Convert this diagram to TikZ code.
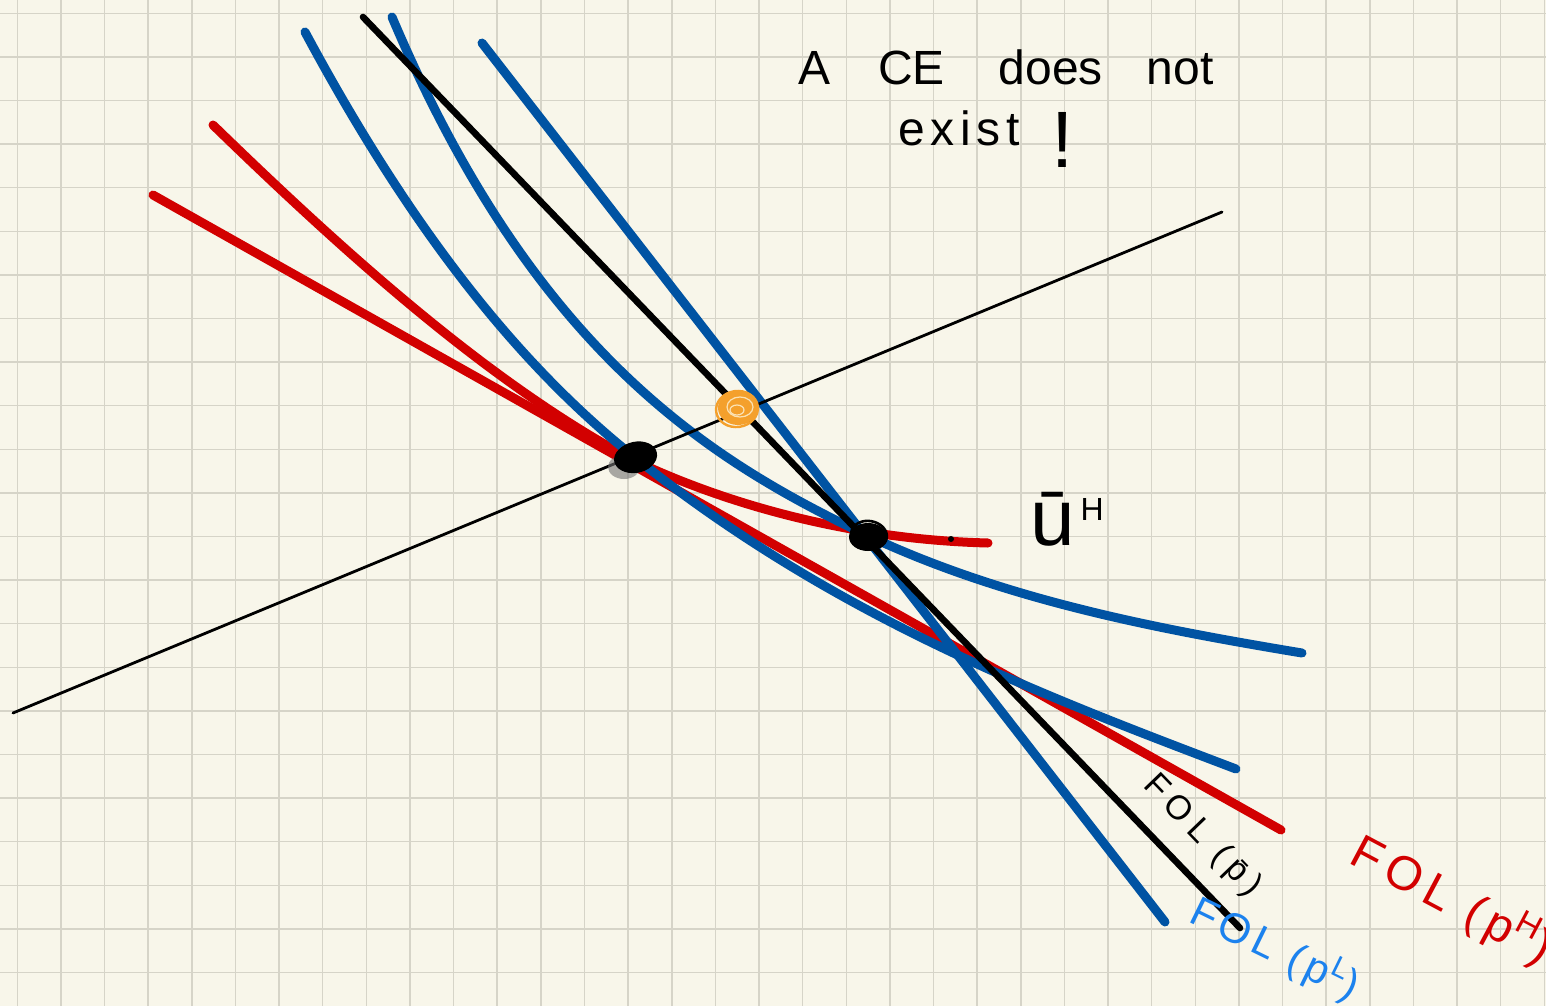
\documentclass[tikz,border=0pt]{standalone}
\usepackage{fontspec}
\setmainfont{Liberation Sans}
\definecolor{paper}{HTML}{F8F6EA}
\definecolor{gridc}{HTML}{D6D4C8}
\definecolor{myblue}{HTML}{0053A3}
\definecolor{myred}{HTML}{D20000}
\definecolor{lblue}{HTML}{1C82EE}
\definecolor{myorange}{HTML}{F4A02C}
\definecolor{lorange}{HTML}{FBE2B4}
\tikzset{
  gridline/.style={draw=gridc, line width=0.75pt},
  bluecurve/.style={draw=myblue, line width=4.5pt, line cap=round},
  redcurve/.style={draw=myred, line width=4.5pt, line cap=round},
  blackthick/.style={draw=black, line width=3.3pt, line cap=round},
  blackthin/.style={draw=black, line width=1.4pt, line cap=round},
  hand/.style={inner sep=0pt, outer sep=0pt},
}
\begin{document}
\begin{tikzpicture}[x=0.5pt,y=-0.5pt]
\useasboundingbox (0,0) rectangle (1546,1006);
\fill[paper] (0,0) rectangle (1546,1006);
% grid
\foreach \i in {0,...,35} \draw[gridline] ({17.3+43.63*\i},0) -- ({17.3+43.63*\i},1006);
\foreach \j in {0,...,22} \draw[gridline] (0,{13.3+43.6*\j}) -- (1546,{13.3+43.6*\j});

% red curves
\draw[redcurve] (153,195) -- (1281,830);
\draw[redcurve] (213,125) .. controls (353,261) and (493,385) .. (633,460)
                          .. controls (743,512) and (868,540) .. (988,543);

% blue curves
\draw[bluecurve] (305,32) .. controls (415,237) and (523,368) .. (633,456)
                          .. controls (833,616) and (1036,693) .. (1236,769);
\draw[bluecurve] (392,17) .. controls (532,347) and (704,457) .. (860,532)
                          .. controls (1000,599) and (1152,628) .. (1302,653);
\draw[bluecurve] (482,43) -- (1165,922);

% black lines
\draw[blackthick] (363,17) -- (1240,928);
\draw[blackthin] (13,713) -- (1222,212);

% small dot on the red curve
\fill (951,539) circle (1.5pt);

% scribbled points
\fill[black!55, opacity=0.6] (624,467) ellipse [x radius=8pt, y radius=6pt];
\fill (635,458) ellipse [x radius=10.5pt, y radius=7.5pt, rotate=8];
\draw[line width=1.3pt] (636,457) ellipse [x radius=10pt, y radius=7pt, rotate=12];
\fill (868,537) ellipse [x radius=9.5pt, y radius=7pt];
\draw[line width=1.3pt] (869,535) ellipse [x radius=9pt, y radius=7pt, rotate=-10];
\fill[myorange] (738,408) ellipse [x radius=10pt, y radius=8.5pt];
\draw[lorange, line width=0.6pt] (740,407) ellipse [x radius=6.5pt, y radius=5pt];
\draw[lorange, line width=0.6pt] (737,410) ellipse [x radius=3.5pt, y radius=2.5pt];
\draw[myorange, line width=1.2pt] (737,409) ellipse [x radius=10.5pt, y radius=9pt, rotate=8];

% texts
\node[hand, anchor=base west] (title1) at (798,85)
  {\fontsize{24}{28}\selectfont A\hspace{24pt}CE\hspace{27pt}does\hspace{22pt}not};
\node[hand, anchor=base west] (title2) at (898,145)
  {\fontsize{24}{28}\selectfont\addfontfeature{LetterSpace=12}exist\hspace{16pt}\raisebox{-11pt}{\fontsize{40}{40}\selectfont !}};
\node[hand, anchor=base west] (uH) at (1030,545)
  {\fontsize{40}{44}\selectfont \={u}\hspace{3pt}\raisebox{12.5pt}{\fontsize{16}{16}\selectfont H}};
\node[hand, rotate=-46] (folbar) at (1202,836)
  {\fontsize{17}{20}\selectfont\addfontfeature{LetterSpace=22}FOL (\={p})};
\node[hand, rotate=-28, text=myred] (folH) at (1452,900)
  {\fontsize{24}{28}\selectfont\addfontfeature{LetterSpace=15}FOL (p\textsuperscript{H})};
\node[hand, rotate=-26, text=lblue] (folL) at (1275,949)
  {\fontsize{21}{24}\selectfont\addfontfeature{LetterSpace=12}FOL (p\textsuperscript{L})};
\end{tikzpicture}
\end{document}
